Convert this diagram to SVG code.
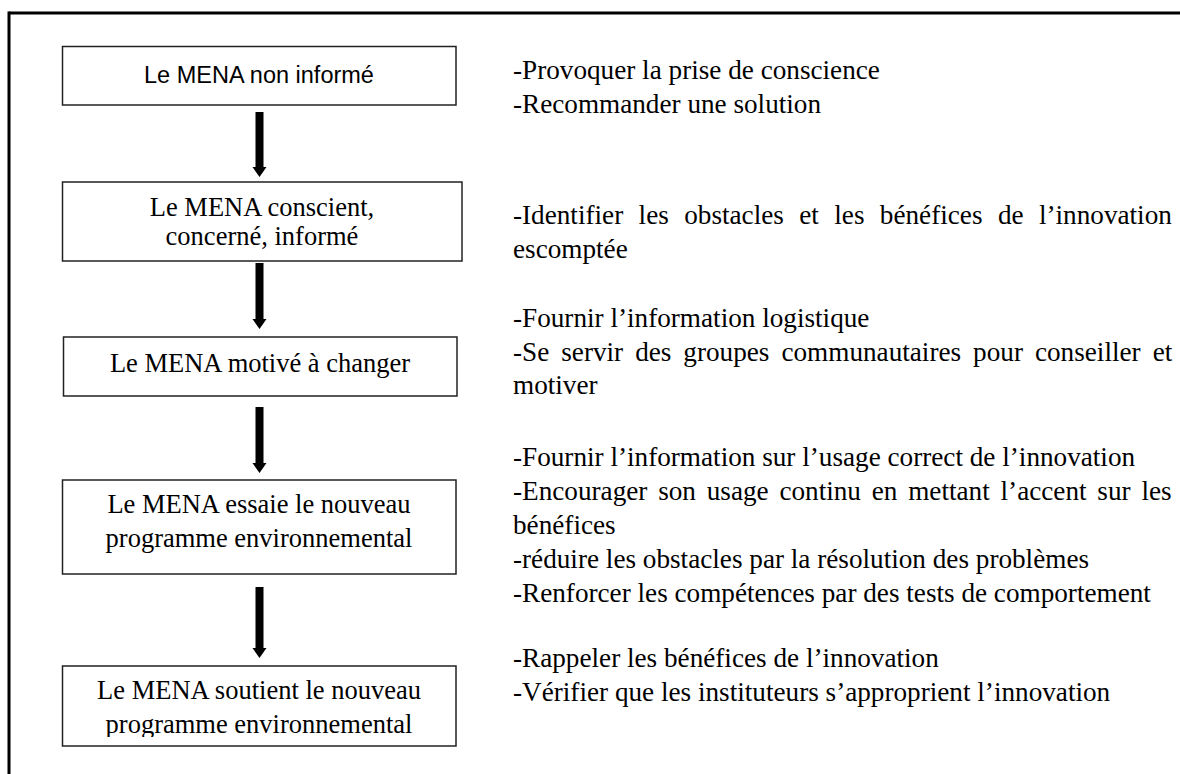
<svg xmlns="http://www.w3.org/2000/svg" width="1180" height="774" viewBox="0 0 1180 774">
<style>
.box{fill:#fff;stroke:#222;stroke-width:1.5}
.sans{font-family:"Liberation Sans",Arial,sans-serif;font-size:23.5px;fill:#000;text-anchor:middle}
.ser{font-family:"Liberation Serif","Times New Roman",serif;font-size:26.5px;fill:#000;text-anchor:middle}
.rt{font-family:"Liberation Serif","Times New Roman",serif;font-size:27.2px;fill:#000}
.arr{fill:#000}
</style>
<defs>
<clipPath id="clip5"><rect x="60" y="660" width="400" height="77"/></clipPath>
</defs>
<rect width="1180" height="774" fill="#fff"/>
<g id="frame">
<rect x="9" y="11.5" width="1171" height="3" fill="#000"/>
<rect x="7.5" y="11.5" width="3" height="763" fill="#000"/>
</g>
<g id="n1">
<rect class="box" x="62.5" y="46.5" width="393.5" height="58.5"/>
<text class="sans" x="259" y="83">Le MENA non informé</text>
</g>
<g id="n2">
<rect class="box" x="62.5" y="182" width="399.5" height="79"/>
<text class="ser" x="262" y="216">Le MENA conscient,</text>
<text class="ser" x="262" y="245">concerné, informé</text>
</g>
<g id="n3">
<rect class="box" x="63.5" y="337" width="393.5" height="59"/>
<text class="ser" x="260" y="372">Le MENA motivé à changer</text>
</g>
<g id="n4">
<rect class="box" x="62.5" y="480" width="393.5" height="94"/>
<text class="ser" x="259" y="513">Le MENA essaie le nouveau</text>
<text class="ser" x="259" y="547">programme environnemental</text>
</g>
<g id="n5">
<rect class="box" x="62.5" y="666" width="393.5" height="80"/>
<g clip-path="url(#clip5)">
<text class="ser" x="259" y="699">Le MENA soutient le nouveau</text>
<text class="ser" x="259" y="733">programme environnemental</text>
</g>
</g>
<g id="connectors">
<path class="arr" d="M255.5,112 H263.5 V167 H266.5 L259.5,177 L252.5,167 H255.5 Z"/>
<path class="arr" d="M255.5,263 H263.5 V319 H266.5 L259.5,329 L252.5,319 H255.5 Z"/>
<path class="arr" d="M255.5,407 H263.5 V463 H266.5 L259.5,473 L252.5,463 H255.5 Z"/>
<path class="arr" d="M255.5,587 H263.5 V648 H266.5 L259.5,658 L252.5,648 H255.5 Z"/>
</g>
<g id="notes">
<text class="rt" x="513" y="79">-Provoquer la prise de conscience</text>
<text class="rt" x="513" y="113">-Recommander une solution</text>
<text class="rt" x="513" y="224" word-spacing="8.6">-Identifier les obstacles et les bénéfices de l’innovation</text>
<text class="rt" x="513" y="258">escomptée</text>
<text class="rt" x="513" y="327">-Fournir l’information logistique</text>
<text class="rt" x="513" y="361" word-spacing="5.2">-Se servir des groupes communautaires pour conseiller et</text>
<text class="rt" x="513" y="394">motiver</text>
<text class="rt" x="513" y="466">-Fournir l’information sur l’usage correct de l’innovation</text>
<text class="rt" x="513" y="500" word-spacing="4.0">-Encourager son usage continu en mettant l’accent sur les</text>
<text class="rt" x="513" y="534">bénéfices</text>
<text class="rt" x="513" y="568">-réduire les obstacles par la résolution des problèmes</text>
<text class="rt" x="513" y="602">-Renforcer les compétences par des tests de comportement</text>
<text class="rt" x="513" y="667">-Rappeler les bénéfices de l’innovation</text>
<text class="rt" x="513" y="701">-Vérifier que les instituteurs s’approprient l’innovation</text>
</g>
</svg>
